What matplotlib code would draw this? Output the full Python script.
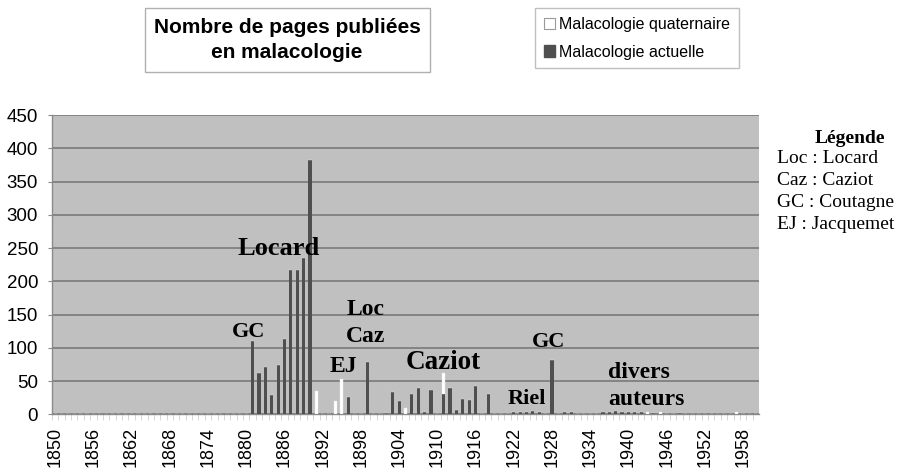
# -*- coding: utf-8 -*-
# Nombre de pages publiées en malacologie (1850-1960)

import numpy as np
import matplotlib.pyplot as plt
from matplotlib.patches import Rectangle, Patch

plt.rcParams['font.family'] = 'Liberation Sans'

# ======= Données =======
years = np.arange(1850, 1961)   # catégories (une par année)
tick_years = np.arange(1850, 1961, 6)

# Malacologie actuelle (barres foncées)
actuelle_years = [1881, 1882, 1883, 1884, 1885, 1886, 1887, 1888, 1889, 1890,
                  1896, 1899, 1902, 1903, 1904, 1906, 1907, 1908, 1909, 1911,
                  1912, 1913, 1914, 1915, 1916, 1918, 1922, 1923, 1924, 1925,
                  1926, 1928, 1930, 1931, 1936, 1937, 1938, 1939, 1940, 1941,
                  1942, 1944, 1948]
actuelle_pages = [110, 62, 71, 29, 74, 113, 217, 217, 235, 383,
                  26, 79, 2, 33, 20, 31, 39, 4, 36, 30,
                  39, 6, 23, 22, 42, 31, 3, 4, 3, 5,
                  3, 81, 3, 4, 3, 4, 5, 3, 4, 3,
                  4, 2, 2]

# Malacologie quaternaire (barres blanches, empilées)
quaternaire_years = [1891, 1894, 1895, 1905, 1911, 1943, 1945, 1957]
quaternaire_pages = [35, 20, 53, 10, 32, 3, 3, 3]

# Annotations (texte, année, hauteur)
notes = [("GC", 1880.3, 123, 16), ("Locard", 1885.1, 249, 19),
         ("Loc", 1898.8, 158, 17), ("Caz", 1898.8, 117, 17),
         ("EJ", 1895.2, 72, 17), ("Caziot", 1910.9, 78, 19.5),
         ("Riel", 1924.1, 23, 16), ("GC", 1927.5, 109, 16)]
legende = ["Loc : Locard", "Caz : Caziot", "GC : Coutagne", "EJ : Jacquemet"]

# séries complètes
act = np.zeros(len(years))
qua = np.zeros(len(years))
for y, v in zip(actuelle_years, actuelle_pages):
    act[y - 1850] = v
for y, v in zip(quaternaire_years, quaternaire_pages):
    qua[y - 1850] = v

# ======= Figure =======
fig = plt.figure(figsize=(9.01, 4.71), dpi=100)
ax = fig.add_axes([52/901, 1 - 414.3/471, 707/901, 299.3/471])
ax.set_facecolor('#c0c0c0')

w = 0.5
ax.bar(years, act, width=w, color='#4f4f4f', zorder=3)
ax.bar(years, qua, width=w, bottom=act, color='white', edgecolor='#e8e8e8',
       linewidth=0.3, zorder=3)

ax.set_xlim(1849.5, 1960.5)
ax.set_ylim(0, 450)
ax.set_yticks(np.arange(0, 451, 50))
ax.set_xticks(tick_years)
ax.set_xticklabels([str(t) for t in tick_years], rotation=90)
ax.set_xticks(years - 0.5, minor=True)
ax.grid(axis='y', color='#7a7a7a', linewidth=1.2, zorder=1)

for s in ['top', 'right']:
    ax.spines[s].set_visible(False)
for s in ['left', 'bottom']:
    ax.spines[s].set_color('#8a8a8a')
    ax.spines[s].set_linewidth(1)

ax.tick_params(axis='y', length=3, color='#8a8a8a', pad=7, labelsize=13.5)
ax.tick_params(axis='x', which='major', length=0, pad=9, labelsize=13)
ax.tick_params(axis='x', which='minor', length=4, color='#d0d0d0')

for txt, x, y, fs in notes:
    ax.text(x, y, txt, ha='center', va='center', fontsize=fs,
            fontweight='bold', family='Liberation Serif', zorder=4)
ax.text(1936.8, 62.5, "divers", ha='left', va='center', fontsize=17,
        fontweight='bold', family='Liberation Serif', zorder=4)
ax.text(1936.8, 23, "auteurs", ha='left', va='center', fontsize=17,
        fontweight='bold', family='Liberation Serif', zorder=4)

# titre encadré
fig.patches.append(Rectangle((145/901, 1 - 72/471), 285/901, 64/471,
                             transform=fig.transFigure, facecolor='white',
                             edgecolor='#b0b0b0', linewidth=1))
fig.text(287/901, 1 - 40/471, "Nombre de pages publiées\nen malacologie",
         ha='center', va='center', fontsize=15, fontweight='bold',
         linespacing=1.4)

# légende des séries
handles = [Patch(facecolor='white', edgecolor='#999999', linewidth=0.8),
           Patch(facecolor='#4f4f4f', edgecolor='#4f4f4f')]
fig.legend(handles, ["Malacologie quaternaire", "Malacologie actuelle"],
           loc='upper left', bbox_to_anchor=(535/901, 1 - 8/471),
           frameon=True, fancybox=False, edgecolor='#b0b0b0',
           prop={'size': 11.5},
           handlelength=0.7, handleheight=0.7, handletextpad=0.25,
           labelspacing=0.8, borderpad=0.55, borderaxespad=0)

# légende des auteurs
fig.text(850/901, 1 - 139/471, "Légende", ha='center', va='center',
         fontsize=14, fontweight='bold', family='Liberation Serif')
for i, l in enumerate(legende):
    fig.text(777/901, 1 - (159 + 21.7*i)/471, l, ha='left', va='center',
             fontsize=14, family='Liberation Serif')

fig.savefig('out.png', dpi=100)
